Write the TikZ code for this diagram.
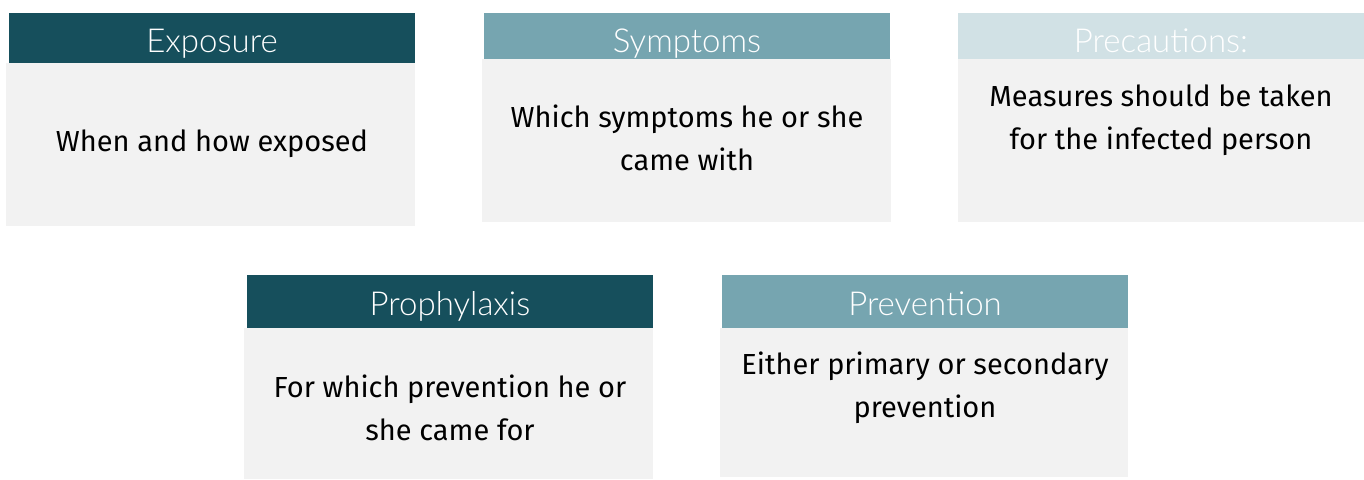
\documentclass[tikz,border=0pt]{standalone}
\usepackage{fontspec}
\setmainfont{Fira Sans}
\newfontfamily\headfont{Lato Light}
\definecolor{escuro}{RGB}{22,79,92}
\definecolor{medio}{RGB}{118,165,176}
\definecolor{claro}{RGB}{209,225,229}
\definecolor{fundo}{RGB}{242,242,242}
\begin{document}
\begin{tikzpicture}[
  x=1pt, y=-1pt,
  hdr/.style={anchor=north west, inner sep=0pt},
  tit/.style={anchor=base, inner sep=0pt, text=white, font=\headfont\fontsize{33}{36}\selectfont},
  body/.style={anchor=north west, inner sep=0pt, fill=fundo},
  txt/.style={align=center, inner sep=0pt, font=\fontsize{29}{43}\selectfont}
]
\useasboundingbox (0,0) rectangle (1364,479);
% caixas: nome / cabeçalho (x, y, larg., alt.) / corpo (x, y, larg., alt.) / cor / título / linha de base / texto / altura do texto
\foreach \nome/\hx/\hy/\hw/\hh/\bx/\by/\bw/\bh/\cor/\tit/\tb/\ty/\corpo in {
  expo/9/13/406/50/6/63/409/163/escuro/Exposure/52/144/{When and how exposed},
  sint/484/13/406/46/482/59/409/163/medio/Symptoms/52/138/{Which symptoms he or she\\came with},
  prec/958/13/406/46/958/59/406/163/claro/Precautions:/52/120/{Measures should be taken\\for the infected person},
  prof/247/275/406/53/244/328/409/151/escuro/Prophylaxis/315/407.5/{For which prevention he or\\she came for},
  prev/722/275/406/53/720/328/408/149/medio/Prevention/315/388/{Either primary or secondary\\prevention}} {
  \node[body, minimum width=\bw, minimum height=\bh] (\nome-b) at (\bx,\by) {};
  \node[hdr, fill=\cor, minimum width=\hw, minimum height=\hh] (\nome-h) at (\hx,\hy) {};
  \node[tit] (\nome-c) at ({\hx+\hw/2}, \tb) {\tit};
  \node[txt] (\nome-t) at ({\hx+\hw/2}, \ty) {\corpo};
}
\end{tikzpicture}
\end{document}
